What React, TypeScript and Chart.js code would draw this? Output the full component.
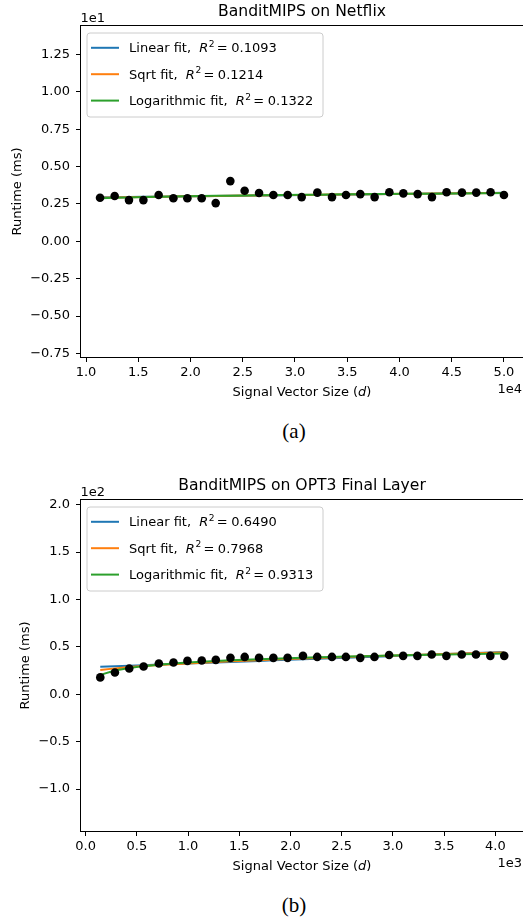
import React, { useEffect, useRef } from "react";
import { Chart, registerables } from "chart.js";
Chart.register(...registerables);

const FONT = "'DejaVu Sans', sans-serif";

// ---- Panel (a): Netflix ----
const netflixD = [11340, 12740, 14110, 15490, 16950, 18360, 19700, 21070, 22410, 23810, 25180, 26560, 27930, 29300, 30640, 32140, 33540, 34880, 36250, 37620, 39030, 40370, 41740, 43110, 44510, 45980, 47350, 48720, 50000];
const netflixRuntime = [2.92, 3.03, 2.76, 2.76, 3.10, 2.88, 2.88, 2.88, 2.56, 4.03, 3.39, 3.23, 3.10, 3.10, 2.96, 3.26, 2.96, 3.10, 3.16, 2.96, 3.28, 3.21, 3.16, 2.96, 3.28, 3.26, 3.26, 3.28, 3.10];
const netflixR2 = [0.1093, 0.1214, 0.1322];
const netflixXTicks = [10000, 15000, 20000, 25000, 30000, 35000, 40000, 45000, 50000];
const netflixYTicks = [-7.5, -5, -2.5, 0, 2.5, 5, 7.5, 10, 12.5];

// ---- Panel (b): OPT3 final layer ----
const optD = [143, 286, 426, 566, 715, 858, 994, 1134, 1271, 1414, 1553, 1693, 1833, 1972, 2122, 2261, 2405, 2541, 2681, 2820, 2963, 3100, 3239, 3379, 3522, 3672, 3811, 3951, 4087];
const optRuntime = [17.8, 23.0, 27.2, 29.3, 32.5, 33.5, 35.2, 35.6, 36.3, 38.4, 39.4, 38.4, 38.4, 38.4, 40.5, 39.4, 39.4, 39.4, 38.4, 39.4, 41.5, 40.5, 40.5, 41.9, 40.5, 41.9, 41.9, 40.5, 40.5];
const optR2 = [0.649, 0.7968, 0.9313];
const optXTicks = [0, 500, 1000, 1500, 2000, 2500, 3000, 3500, 4000];
const optYTicks = [-100, -50, 0, 50, 100, 150, 200];

const fitNames = ["Linear", "Sqrt", "Logarithmic"];
const fitColors = ["#1f77b4", "#ff7f0e", "#2ca02c"];
const fitBasis: ((x: number) => number)[] = [(x) => x, (x) => Math.sqrt(x), (x) => Math.log(x)];

const AREA_LEFT = 80.5;
const AREA_RIGHT = 523.5;
const CANVAS_W = 540;

type Panel = {
  title: string;
  xs: number[];
  ys: number[];
  r2: number[];
  xTicks: number[];
  yTicks: number[];
  xDiv: number;
  yDiv: number;
  xDec: number;
  yDec: number;
  xExp: string;
  yExp: string;
  xMin: number;
  xMax: number;
  yMin: number;
  yMax: number;
  top: number;
  height: number;
  areaTop: number;
  areaBottom: number;
  yLabelX: number;
};

const panels: Panel[] = [
  {
    title: "BanditMIPS on Netflix",
    xs: netflixD, ys: netflixRuntime, r2: netflixR2,
    xTicks: netflixXTicks, yTicks: netflixYTicks,
    xDiv: 1e4, yDiv: 10, xDec: 1, yDec: 2, xExp: "1e4", yExp: "1e1",
    xMin: 9470, xMax: 51870, yMin: -7.77, yMax: 14.44,
    top: 0, height: 410, areaTop: 25.5, areaBottom: 357.5, yLabelX: 18,
  },
  {
    title: "BanditMIPS on OPT3 Final Layer",
    xs: optD, ys: optRuntime, r2: optR2,
    xTicks: optXTicks, yTicks: optYTicks,
    xDiv: 1e3, yDiv: 100, xDec: 1, yDec: 1, xExp: "1e3", yExp: "1e2",
    xMin: -50, xMax: 4275, yMin: -144.7, yMax: 205.4,
    top: 460, height: 420, areaTop: 39.5, areaBottom: 371.5, yLabelX: 25.8,
  },
];

function fitCurve(xs: number[], ys: number[], f: (x: number) => number) {
  const fx = xs.map(f);
  const n = xs.length;
  const mx = fx.reduce((s, v) => s + v, 0) / n;
  const my = ys.reduce((s, v) => s + v, 0) / n;
  let sxy = 0, sxx = 0;
  for (let i = 0; i < n; i++) {
    sxy += (fx[i] - mx) * (ys[i] - my);
    sxx += (fx[i] - mx) * (fx[i] - mx);
  }
  const b = sxy / sxx;
  const a = my - b * mx;
  return xs.map((x, i) => ({ x, y: a + b * fx[i] }));
}

function fmt(v: number, dec: number) {
  const s = Math.abs(v).toFixed(dec);
  return v < -1e-9 ? "\u2212" + s : s;
}

function makeChart(canvas: HTMLCanvasElement, p: Panel) {
  const decor = {
    id: "decor",
    afterDatasetsDraw(chart: any) {
      const { ctx, chartArea: a } = chart;
      ctx.save();
      // frame
      ctx.strokeStyle = "#000";
      ctx.lineWidth = 1;
      ctx.strokeRect(a.left, a.top, a.right - a.left, a.bottom - a.top);
      // legend box
      const lx = a.left + 6.5, ly = a.top + 7.5, lw = 236, lh = 84, r = 3;
      ctx.beginPath();
      ctx.moveTo(lx + r, ly);
      ctx.lineTo(lx + lw - r, ly);
      ctx.arcTo(lx + lw, ly, lx + lw, ly + r, r);
      ctx.lineTo(lx + lw, ly + lh - r);
      ctx.arcTo(lx + lw, ly + lh, lx + lw - r, ly + lh, r);
      ctx.lineTo(lx + r, ly + lh);
      ctx.arcTo(lx, ly + lh, lx, ly + lh - r, r);
      ctx.lineTo(lx, ly + r);
      ctx.arcTo(lx, ly, lx + r, ly, r);
      ctx.closePath();
      ctx.fillStyle = "rgba(255,255,255,0.8)";
      ctx.fill();
      ctx.strokeStyle = "#cccccc";
      ctx.stroke();
      for (let i = 0; i < fitNames.length; i++) {
        const cy = a.top + 22.3 + i * 26.4;
        ctx.strokeStyle = fitColors[i];
        ctx.lineWidth = 2;
        ctx.beginPath();
        ctx.moveTo(a.left + 10.5, cy);
        ctx.lineTo(a.left + 38.5, cy);
        ctx.stroke();
        const base = cy + 4.6;
        let x = a.left + 48.6;
        ctx.fillStyle = "#000";
        ctx.textBaseline = "alphabetic";
        ctx.textAlign = "left";
        ctx.font = `13px ${FONT}`;
        const t1 = `${fitNames[i]} fit,  `;
        ctx.fillText(t1, x, base);
        x += ctx.measureText(t1).width;
        ctx.font = `italic 13px ${FONT}`;
        ctx.fillText("R", x, base);
        x += ctx.measureText("R").width + 0.5;
        ctx.font = `9.1px ${FONT}`;
        ctx.fillText("2", x, base - 5.5);
        x += ctx.measureText("2").width + 2.2;
        ctx.font = `13px ${FONT}`;
        ctx.fillText("=", x, base);
        x += ctx.measureText("=").width + 3.6;
        ctx.fillText(p.r2[i].toFixed(4), x, base);
      }
      ctx.restore();
    },
    afterDraw(chart: any) {
      const { ctx, chartArea: a } = chart;
      ctx.save();
      ctx.fillStyle = "#000";
      // title
      ctx.font = `15.6px ${FONT}`;
      ctx.textAlign = "center";
      ctx.textBaseline = "middle";
      ctx.fillText(p.title, (a.left + a.right) / 2, a.top - 13.5);
      // exponents
      ctx.font = `13px ${FONT}`;
      ctx.textAlign = "left";
      ctx.fillText(p.yExp, a.left, a.top - 6.5);
      ctx.textAlign = "right";
      ctx.fillText(p.xExp, 522, a.bottom + 32);
      // x label with italic d
      const parts: [string, string][] = [
        ["Signal Vector Size (", `13px ${FONT}`],
        ["d", `italic 13px ${FONT}`],
        [")", `13px ${FONT}`],
      ];
      let total = 0;
      for (const [t, f] of parts) { ctx.font = f; total += ctx.measureText(t).width; }
      let x = (a.left + a.right) / 2 - total / 2;
      ctx.textAlign = "left";
      for (const [t, f] of parts) {
        ctx.font = f;
        ctx.fillText(t, x, a.bottom + 35.3);
        x += ctx.measureText(t).width;
      }
      // y label
      ctx.font = `13px ${FONT}`;
      ctx.translate(p.yLabelX, (a.top + a.bottom) / 2);
      ctx.rotate(-Math.PI / 2);
      ctx.textAlign = "center";
      ctx.fillText("Runtime (ms)", 0, 0);
      ctx.restore();
    },
  };

  const scatter = p.xs.map((x, i) => ({ x, y: p.ys[i] }));
  const datasets: any[] = [
    {
      label: "data",
      data: scatter,
      showLine: false,
      pointRadius: 4.3,
      pointBackgroundColor: "#000",
      pointBorderWidth: 0,
      order: 0,
    },
  ];
  fitNames.forEach((name, i) => {
    datasets.push({
      label: `${name} fit`,
      data: fitCurve(p.xs, p.ys, fitBasis[i]),
      showLine: true,
      borderColor: fitColors[i],
      borderWidth: 2,
      pointRadius: 0,
      fill: false,
      order: 3 - i,
    });
  });

  const tickFont = { family: FONT, size: 13 };
  return new Chart(canvas, {
    type: "scatter",
    data: { datasets },
    options: {
      responsive: false,
      animation: false,
      devicePixelRatio: 1,
      layout: { padding: { top: p.areaTop, right: CANVAS_W - AREA_RIGHT, left: 0, bottom: 0 } },
      plugins: { legend: { display: false }, tooltip: { enabled: false }, title: { display: false } },
      scales: {
        x: {
          type: "linear",
          min: p.xMin,
          max: p.xMax,
          afterBuildTicks: (s: any) => { s.ticks = p.xTicks.map((v) => ({ value: v })); },
          afterFit: (s: any) => { s.height = p.height - p.areaBottom; },
          ticks: {
            font: tickFont, color: "#000", padding: 2.5, maxRotation: 0, autoSkip: false,
            callback: (v: any) => fmt(Number(v) / p.xDiv, p.xDec),
          },
          grid: { drawOnChartArea: false, drawTicks: true, tickLength: 4.5, color: "#000", lineWidth: 1 },
          border: { display: false },
        },
        y: {
          type: "linear",
          min: p.yMin,
          max: p.yMax,
          afterBuildTicks: (s: any) => { s.ticks = p.yTicks.map((v) => ({ value: v })); },
          afterFit: (s: any) => { s.width = AREA_LEFT; },
          ticks: {
            font: tickFont, color: "#000", padding: 6, autoSkip: false,
            callback: (v: any) => fmt(Number(v) / p.yDiv, p.yDec),
          },
          grid: { drawOnChartArea: false, drawTicks: true, tickLength: 4.5, color: "#000", lineWidth: 1 },
          border: { display: false },
        },
      },
    },
    plugins: [decor],
  } as any);
}

function PanelChart({ p }: { p: Panel }) {
  const ref = useRef<HTMLCanvasElement | null>(null);
  useEffect(() => {
    if (!ref.current) return;
    const chart = makeChart(ref.current, p);
    return () => chart.destroy();
  }, [p]);
  return (
    <div style={{ position: "absolute", left: 0, top: p.top, width: CANVAS_W, height: p.height }}>
      <canvas ref={ref} width={CANVAS_W} height={p.height} style={{ display: "block" }} />
    </div>
  );
}

const captionStyle: React.CSSProperties = {
  position: "absolute",
  left: 0,
  width: 588,
  textAlign: "center",
  fontFamily: "'Liberation Serif', 'Times New Roman', serif",
  fontSize: 21,
  lineHeight: "24px",
  color: "#000",
};

export default function App() {
  return (
    <div style={{ position: "absolute", left: 0, top: 0, width: 523, height: 920, overflow: "hidden", background: "#fff" }}>
      {panels.map((p, i) => (
        <PanelChart key={i} p={p} />
      ))}
      <div style={{ ...captionStyle, top: 419.3 }}>(a)</div>
      <div style={{ ...captionStyle, top: 893 }}>(b)</div>
    </div>
  );
}
